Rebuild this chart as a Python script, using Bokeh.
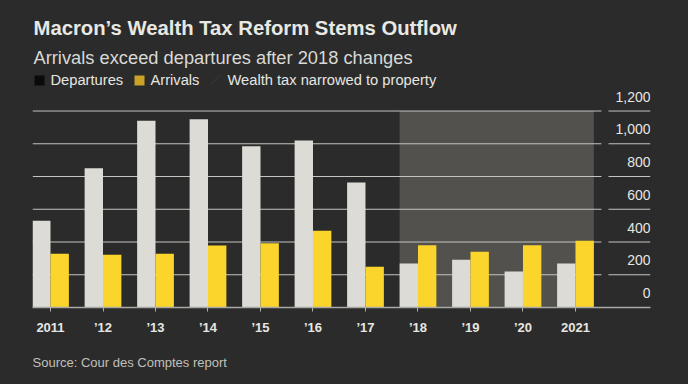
from bokeh.plotting import figure
from bokeh.models import Range1d, FixedTicker, ColumnDataSource, Label, BoxAnnotation, PolyAnnotation, Title
from bokeh.transform import dodge
from bokeh.embed import file_html
from bokeh.resources import INLINE
from bokeh.core.properties import value

# ---- data ----
years = ["2011", "’12", "’13", "’14", "’15", "’16", "’17", "’18", "’19", "’20", "2021"]
departures = [530, 850, 1140, 1150, 985, 1020, 763, 269, 292, 220, 269]
arrivals = [329, 322, 329, 378, 392, 469, 249, 380, 341, 380, 408]
reform_first, reform_last = "’18", "2021"
y_ticks = [0, 200, 400, 600, 800, 1000, 1200]
y_tick_labels = ["0", "200", "400", "600", "800", "1,000", "1,200"]

# ---- style ----
BG = "#2b2b2b"
SHADE = "#53514d"
DEP = "#dddbd6"
ARR = "#fbd52b"
GRID = "#c4c4c0"
TXT = "#e6e6e2"
FONT = "Liberation Sans"
BW = 0.35

X0, X1 = -0.343, 11.429
p = figure(width=688, height=384, output_backend="svg", toolbar_location=None,
           x_range=Range1d(X0, X1), y_range=Range1d(0, 1875),
           y_axis_location=None,
           min_border_left=32, min_border_right=38, min_border_top=0, min_border_bottom=77,
           background_fill_color=BG, border_fill_color=BG, outline_line_color=None)
p.grid.visible = False

# shaded reform period
i0, i1 = years.index(reform_first), years.index(reform_last)
p.quad(left=[i0 - BW], right=[i1 + BW], bottom=[0], top=[y_ticks[-1]],
       fill_color=SHADE, line_color=None)

# gridlines (with a gap before the labels)
gy = y_ticks[1:]
gap_l, gap_r = 10.495, 10.629
p.segment(x0=[X0] * len(gy), x1=[gap_l] * len(gy), y0=gy, y1=gy, line_color=GRID, line_width=1)
p.segment(x0=[gap_r] * len(gy), x1=[X1] * len(gy), y0=gy, y1=gy, line_color=GRID, line_width=1)

# bars
src = ColumnDataSource(dict(x=list(range(len(years))), dep=departures, arr=arrivals))
p.vbar(x=dodge("x", -BW / 2, range=p.x_range), top="dep", width=BW, source=src,
       fill_color=DEP, line_color=None)
p.vbar(x=dodge("x", BW / 2, range=p.x_range), top="arr", width=BW, source=src,
       fill_color=ARR, line_color=None)

# y tick labels above gridlines, right aligned
ysrc = ColumnDataSource(dict(x=[X1] * len(y_ticks), y=y_ticks, t=y_tick_labels))
p.text(x="x", y="y", text="t", source=ysrc, text_align="right", text_baseline="alphabetic",
       y_offset=-14.5, text_font=value(FONT), text_font_size="14px", text_color=TXT)

# x axis
ax = p.xaxis[0]
ax.ticker = FixedTicker(ticks=list(range(len(years))))
ax.major_label_overrides = {i: y for i, y in enumerate(years)}
ax.minor_tick_line_color = None
ax.major_tick_in = 0
ax.major_tick_out = 4
ax.major_tick_line_color = "#b0b0ac"
ax.axis_line_color = "#a8a8a4"
ax.axis_line_width = 1.5
ax.major_label_standoff = 8
ax.major_label_text_font = FONT
ax.major_label_text_font_size = "13px"
ax.major_label_text_font_style = "bold"
ax.major_label_text_color = TXT

# source note below the axis
p.add_layout(Title(text="Source: Cour des Comptes report", align="left", offset=0, standoff=30,
                   text_font=FONT, text_font_size="13px", text_font_style="normal",
                   text_color="#c0c0bc"), "below")

# titles (screen units relative to frame bottom-left)
def lab(x, y, text, size, style="normal", color=TXT):
    p.add_layout(Label(x=x, y=y, x_units="screen", y_units="screen", text=text,
                       text_font=FONT, text_font_size=size, text_font_style=style,
                       text_color=color, text_baseline="alphabetic", text_align="left"))

lab(1, 280, "Macron’s Wealth Tax Reform Stems Outflow", "20.3px", "bold", "#e8e8e4")
lab(1, 250.3, "Arrivals exceed departures after 2018 changes", "18.3px", "normal", "#d9d9d5")

# legend
p.add_layout(BoxAnnotation(left=2, right=12, bottom=222, top=232, left_units="screen",
                           right_units="screen", bottom_units="screen", top_units="screen",
                           fill_color="#0a0a0a", fill_alpha=1, line_color=None))
lab(18, 227.7, "Departures", "14.7px")
p.add_layout(BoxAnnotation(left=102, right=112, bottom=222, top=232, left_units="screen",
                           right_units="screen", bottom_units="screen", top_units="screen",
                           fill_color="#c9a227", fill_alpha=1, line_color=None))
lab(118, 227.7, "Arrivals", "14.7px")
p.add_layout(PolyAnnotation(xs=[178, 188], ys=[223, 233], xs_units="screen", ys_units="screen",
                            line_color="#4a4a4a", line_width=1.5, fill_alpha=0))
lab(195, 227.7, "Wealth tax narrowed to property", "14.7px")

html = file_html(p, INLINE, title="Macron wealth tax")
html = html.replace("</head>", "<style>html,body{background:%s;}</style></head>" % BG, 1)
open("out.html", "w").write(html)
